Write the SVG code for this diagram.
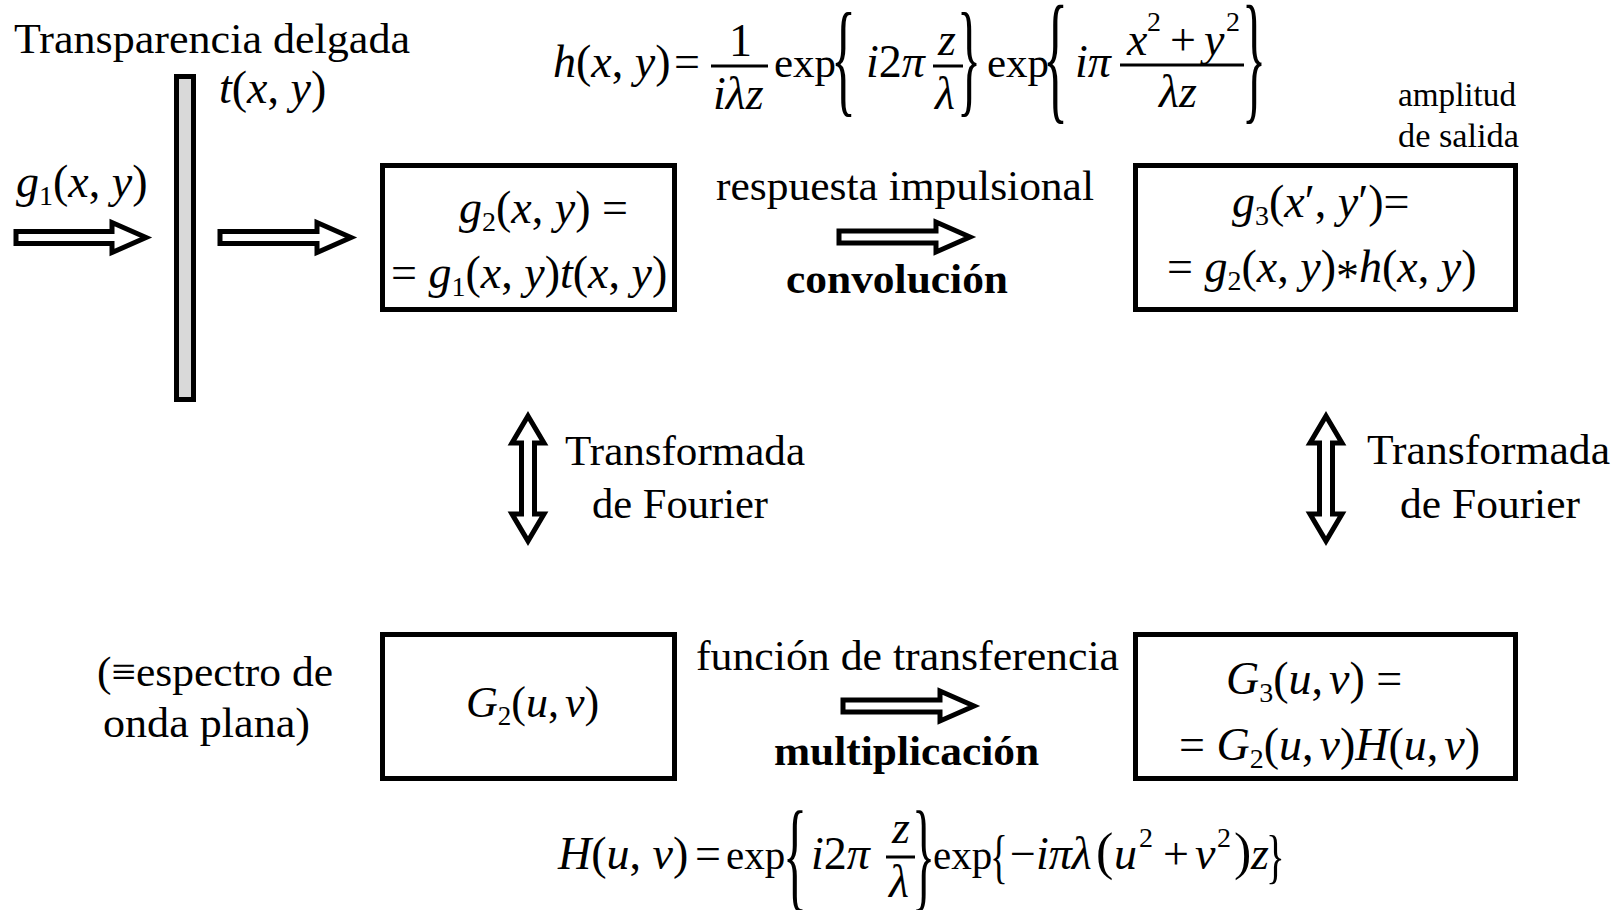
<svg xmlns="http://www.w3.org/2000/svg" width="1621" height="910" viewBox="0 0 1621 910">
<style>
text { font-family: "Liberation Serif", "Times New Roman", serif; fill: #000; }
.i { font-style: italic; }
.b { font-weight: bold; }
.lbl { font-size: 43px; }
.m { font-size: 46px; }
.m44 { font-size: 44px; }
.sm { font-size: 33px; }
.br { font-size: 100px; }
.box { fill: #fff; stroke: #000; stroke-width: 5; }
.arr { fill: #fff; stroke: #000; stroke-width: 5; stroke-linejoin: miter; stroke-miterlimit: 10; }
.bar { stroke: #000; stroke-width: 3; }
</style>
<rect width="1621" height="910" fill="#fff"/>

<g id="transparencia">
  <rect x="176.5" y="76.5" width="17" height="323" fill="#d9d9d9" stroke="#000" stroke-width="5"/>
  <text class="lbl" x="14" y="53" textLength="396" lengthAdjust="spacingAndGlyphs">Transparencia delgada</text>
  <text class="m" x="219" y="103"><tspan class="i">t</tspan>(<tspan class="i">x</tspan>, <tspan class="i">y</tspan>)</text>
</g>

<g id="entrada">
  <text class="m" x="16" y="197"><tspan class="i">g</tspan><tspan font-size="28" dy="8">1</tspan><tspan dy="-8">(</tspan><tspan class="i">x</tspan>, <tspan class="i">y</tspan>)</text>
</g>

<g id="h-formula">
  <text class="m" y="77"><tspan x="553" class="i">h</tspan>(<tspan class="i">x</tspan>, <tspan class="i">y</tspan>)<tspan x="674">=</tspan><tspan x="774" font-size="43">exp</tspan><tspan x="866" class="i">i</tspan>2<tspan class="i">π</tspan><tspan x="987" font-size="43">exp</tspan><tspan x="1075" class="i">iπ</tspan></text>
  <text class="m" x="729" y="56">1</text>
  <line class="bar" x1="711" y1="66" x2="768" y2="66"/>
  <text class="m i" x="713" y="109">iλz</text>
  <text class="m i" x="938" y="55">z</text>
  <line class="bar" x1="933" y1="66" x2="963" y2="66"/>
  <text class="m i" x="935" y="109">λ</text>
  <text class="m" y="55"><tspan x="1127" class="i">x</tspan><tspan x="1147" y="31" font-size="28">2</tspan><tspan x="1170" y="55">+</tspan><tspan x="1204" class="i">y</tspan><tspan x="1226" y="31" font-size="28">2</tspan></text>
  <line class="bar" x1="1120" y1="65" x2="1244" y2="65"/>
  <text class="m i" x="1159" y="107">λz</text>
  <text class="br" transform="translate(831,100) scale(0.52,1.28)">{</text>
  <text class="br" transform="translate(957,100) scale(0.5,1.28)">}</text>
  <text class="br" transform="translate(1043,105) scale(0.52,1.43)">{</text>
  <text class="br" transform="translate(1242,105) scale(0.5,1.43)">}</text>
</g>

<g id="nodo-g2">
  <rect class="box" x="382.5" y="165.5" width="292" height="144"/>
  <text class="m" x="459" y="223"><tspan class="i">g</tspan><tspan font-size="28" dy="8">2</tspan><tspan dy="-8">(</tspan><tspan class="i">x</tspan>, <tspan class="i">y</tspan>) =</text>
  <text class="m" x="391" y="288">= <tspan class="i">g</tspan><tspan font-size="28" dy="8">1</tspan><tspan dy="-8">(</tspan><tspan class="i">x</tspan>, <tspan class="i">y</tspan>)<tspan class="i">t</tspan>(<tspan class="i">x</tspan>, <tspan class="i">y</tspan>)</text>
</g>

<g id="conv-label">
  <text class="lbl" x="716" y="200" textLength="378" lengthAdjust="spacingAndGlyphs">respuesta impulsional</text>
  <text class="lbl b" x="786" y="293" textLength="222" lengthAdjust="spacingAndGlyphs">convolución</text>
</g>

<g id="nodo-g3">
  <text class="sm" x="1398" y="106" textLength="118" lengthAdjust="spacingAndGlyphs">amplitud</text>
  <text class="sm" x="1398" y="147" textLength="121" lengthAdjust="spacingAndGlyphs">de salida</text>
  <rect class="box" x="1135.5" y="165.5" width="380" height="144"/>
  <text class="m" x="1232" y="217"><tspan class="i">g</tspan><tspan font-size="28" dy="8">3</tspan><tspan dy="-8">(</tspan><tspan class="i">x</tspan>′, <tspan class="i">y</tspan>′)=</text>
  <text class="m" x="1167" y="282">= <tspan class="i">g</tspan><tspan font-size="28" dy="8">2</tspan><tspan dy="-8">(</tspan><tspan class="i">x</tspan>, <tspan class="i">y</tspan>)<tspan dy="10">*</tspan><tspan class="i" dy="-10">h</tspan>(<tspan class="i">x</tspan>, <tspan class="i">y</tspan>)</text>
</g>

<g id="fourier-izq">
  <text class="lbl" x="565" y="465" textLength="240" lengthAdjust="spacingAndGlyphs">Transformada</text>
  <text class="lbl" x="592" y="518" textLength="176" lengthAdjust="spacingAndGlyphs">de Fourier</text>
</g>

<g id="fourier-der">
  <text class="lbl" x="1367" y="464" textLength="243" lengthAdjust="spacingAndGlyphs">Transformada</text>
  <text class="lbl" x="1400" y="518" textLength="180" lengthAdjust="spacingAndGlyphs">de Fourier</text>
</g>

<g id="espectro">
  <text class="lbl" x="97" y="686" textLength="236" lengthAdjust="spacingAndGlyphs">(≡espectro de</text>
  <text class="lbl" x="103" y="737" textLength="207" lengthAdjust="spacingAndGlyphs">onda plana)</text>
</g>

<g id="nodo-G2">
  <rect class="box" x="382.5" y="634.5" width="292" height="144"/>
  <text class="m44" x="466" y="717"><tspan class="i">G</tspan><tspan font-size="27" dy="8">2</tspan><tspan dy="-8">(</tspan><tspan class="i">u</tspan>,<tspan class="i" dx="6">v</tspan>)</text>
</g>

<g id="mult-label">
  <text class="lbl" x="696" y="670" textLength="423" lengthAdjust="spacingAndGlyphs">función de transferencia</text>
  <text class="lbl b" x="774" y="765" textLength="265" lengthAdjust="spacingAndGlyphs">multiplicación</text>
</g>

<g id="nodo-G3">
  <rect class="box" x="1135.5" y="634.5" width="380" height="144"/>
  <text class="m" x="1226" y="694"><tspan class="i">G</tspan><tspan font-size="28" dy="8">3</tspan><tspan dy="-8">(</tspan><tspan class="i">u</tspan>,<tspan class="i" dx="6">v</tspan>) =</text>
  <text class="m" x="1179" y="760">= <tspan class="i">G</tspan><tspan font-size="28" dy="8">2</tspan><tspan dy="-8">(</tspan><tspan class="i">u</tspan>,<tspan class="i" dx="6">v</tspan>)<tspan class="i">H</tspan>(<tspan class="i">u</tspan>,<tspan class="i" dx="6">v</tspan>)</text>
</g>

<g id="H-formula">
  <text class="m" y="869"><tspan x="558" class="i">H</tspan>(<tspan class="i">u</tspan>, <tspan class="i">v</tspan>)<tspan x="695">=</tspan><tspan x="726" font-size="41">exp</tspan><tspan x="811" class="i">i</tspan>2<tspan class="i">π</tspan><tspan x="933" font-size="41">exp</tspan><tspan x="1010">−</tspan><tspan class="i">iπλ</tspan><tspan x="1096" font-size="52">(</tspan><tspan x="1114" class="i">u</tspan><tspan x="1139" y="847" font-size="28">2</tspan><tspan x="1163" y="869">+</tspan><tspan x="1195" class="i">v</tspan><tspan x="1217" y="847" font-size="28">2</tspan><tspan x="1234" y="869" font-size="52">)</tspan><tspan x="1251" class="i">z</tspan></text>
  <text class="m i" x="892" y="843">z</text>
  <line class="bar" x1="886" y1="857" x2="915" y2="857"/>
  <text class="m i" x="889" y="897">λ</text>
  <text class="br" transform="translate(783,896) scale(0.5,1.22)">{</text>
  <text class="br" transform="translate(912,896) scale(0.48,1.22)">}</text>
  <text font-size="60" transform="translate(990,876) scale(0.62,1)">{</text>
  <text font-size="60" transform="translate(1266,876) scale(0.65,1)">}</text>
</g>

<g id="conectores">
  <polygon class="arr" points="16,231.5 112,231.5 112,222.5 146,237.5 112,252.5 112,243.5 16,243.5"/>
  <polygon class="arr" points="220,231.5 317,231.5 317,222.5 351,237.5 317,252.5 317,243.5 220,243.5"/>
  <polygon class="arr" points="839,231 936,231 936,222 970,237 936,252 936,243 839,243"/>
  <polygon class="arr" points="843,700 940,700 940,691 974,706 940,721 940,712 843,712"/>
  <polygon class="arr" points="528,416 544,443 534.5,443 534.5,514 544,514 528,541 512,514 521.5,514 521.5,443 512,443"/>
  <polygon class="arr" points="1326,416 1342,443 1332.5,443 1332.5,514 1342,514 1326,541 1310,514 1319.5,514 1319.5,443 1310,443"/>
</g>
</svg>
